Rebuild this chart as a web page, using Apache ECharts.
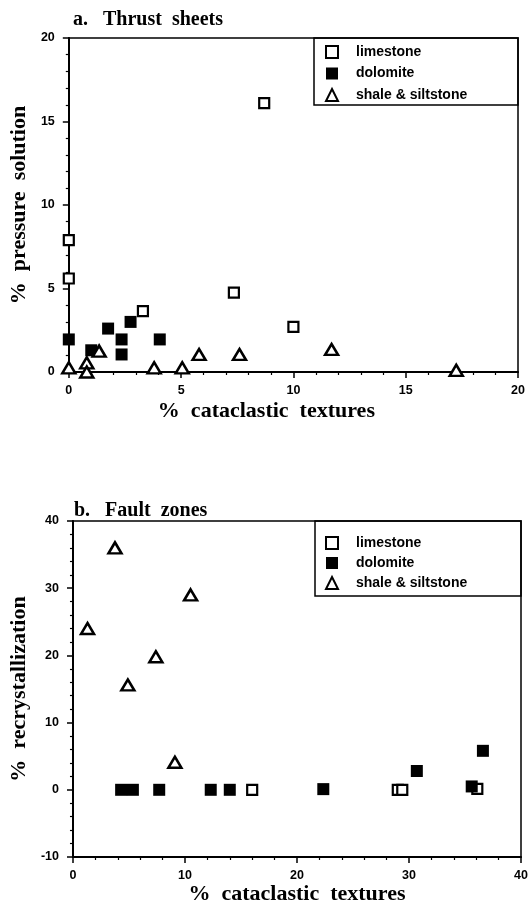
<!DOCTYPE html>
<html>
<head>
<meta charset="utf-8">
<script src="https://cdn.jsdelivr.net/npm/echarts@6/dist/echarts.min.js"></script>
<style>
html,body{margin:0;padding:0;background:#fff;}
#c{width:531px;height:906px;}
</style>
</head>
<body>
<div id="c"></div>
<script>
// ---- data (x = % cataclastic textures, y = % pressure solution / % recrystallization)
const seriesNames = ['limestone', 'dolomite', 'shale & siltstone'];
const thrustLimestone = [[0,7.9],[0,5.6],[8.7,16.1],[7.35,4.75],[3.3,3.65],[10.0,2.7]];
const thrustDolomite = [[0,1.95],[1.0,1.3],[1.75,2.6],[2.35,1.95],[2.35,1.05],[2.75,3.0],[4.05,1.95]];
const thrustShale = [[0,0.25],[0.8,0.55],[0.8,0],[1.35,1.25],[3.8,0.25],[5.05,0.25],[5.8,1.05],[7.6,1.05],[11.7,1.35],[17.25,0.1]];
const faultLimestone = [[16.0,0],[29.0,0],[29.4,0],[36.1,0.15]];
const faultDolomite = [[4.3,0],[5.35,0],[7.7,0],[12.3,0],[14.0,0],[22.35,0.1],[30.7,2.8],[35.6,0.5],[36.6,5.8]];
const faultShale = [[1.3,24],[3.75,36],[4.9,15.6],[7.4,19.8],[9.1,4.1],[10.5,29]];
const thrustXTicks = [0, 20, 5];   // min, max, interval
const thrustYTicks = [0, 20, 5];
const faultXTicks = [0, 40, 10];
const faultYTicks = [-10, 40, 10];

const serif = '"Liberation Serif","Times New Roman",serif';
const sans = '"Liberation Sans",Arial,sans-serif';

function axisCommon(t, opts) {
  return Object.assign({
    type: 'value', min: t[0], max: t[1], interval: t[2],
    axisLine: { show: true, onZero: false, lineStyle: { color: '#000', width: 2 } },
    axisTick: { show: true, inside: false, length: 6, lineStyle: { color: '#000', width: 1.5 } },
    minorTick: { show: true, splitNumber: 5, length: 3, lineStyle: { color: '#000', width: 1.2 } },
    splitLine: { show: false },
    minorSplitLine: { show: false },
    nameLocation: 'middle',
    nameTextStyle: { color: '#000', fontFamily: serif, fontWeight: 'bold', fontSize: 22 }
  }, opts);
}

function tickLabel(margin) {
  return { color: '#000', fontFamily: sans, fontWeight: 'bold', fontSize: 12.5, margin: margin };
}

const styles = {
  limestone: { symbol: 'rect', symbolSize: 10, itemStyle: { color: '#fff', borderColor: '#000', borderWidth: 2.2, opacity: 1 } },
  dolomite: { symbol: 'rect', symbolSize: 12, itemStyle: { color: '#000', borderColor: '#000', borderWidth: 0, opacity: 1 } },
  shale: { symbol: 'triangle', symbolSize: [13, 11], itemStyle: { color: '#fff', borderColor: '#000', borderWidth: 2.5, opacity: 1 } }
};

function sc(name, st, data, idx) {
  return Object.assign({
    type: 'scatter', name: name, xAxisIndex: idx, yAxisIndex: idx, data: data, clip: false, z: 5
  }, JSON.parse(JSON.stringify(st)));
}

function legendFor(left, top, padTop, itemGap, padLeft) {
  return {
    orient: 'vertical', left: left, top: top, data: seriesNames,
    itemWidth: 12, itemHeight: 12, itemGap: itemGap,
    padding: [padTop, 0, 0, padLeft],
    selectedMode: false,
    textStyle: { color: '#000', fontFamily: sans, fontWeight: 'bold', fontSize: 14, lineHeight: 14, padding: [0, 0, 0, 13] }
  };
}

const chart = echarts.init(document.getElementById('c'), null, { renderer: 'canvas' });
chart.setOption({
  backgroundColor: '#fff',
  animation: false,
  title: [
    { text: 'a.   Thrust  sheets', left: 73, top: 10, padding: 0,
      textStyle: { color: '#000', fontFamily: serif, fontWeight: 'bold', fontSize: 20 } },
    { text: 'b.   Fault  zones', left: 74, top: 501, padding: 0,
      textStyle: { color: '#000', fontFamily: serif, fontWeight: 'bold', fontSize: 20 } }
  ],
  grid: [
    { left: 67, top: 38, width: 451, height: 334, show: true, borderColor: '#000', borderWidth: 1.5, backgroundColor: 'transparent' },
    { left: 72, top: 521, width: 449, height: 336, show: true, borderColor: '#000', borderWidth: 1.5, backgroundColor: 'transparent' }
  ],
  xAxis: [
    axisCommon(thrustXTicks, { gridIndex: 0, name: '%  cataclastic  textures', nameGap: 28,
      axisLabel: tickLabel(12),
      nameTextStyle: { color: '#000', fontFamily: serif, fontWeight: 'bold', fontSize: 22, padding: [0, 54, 0, 0] } }),
    axisCommon(faultXTicks, { gridIndex: 1, name: '%  cataclastic  textures', nameGap: 25,
      axisLabel: tickLabel(12) })
  ],
  yAxis: [
    axisCommon(thrustYTicks, { gridIndex: 0, name: '%  pressure  solution', nameGap: 36,
      axisLabel: tickLabel(14) }),
    axisCommon(faultYTicks, { gridIndex: 1, name: '%  recrystallization', nameGap: 40,
      axisLabel: tickLabel(14) })
  ],
  legend: [
    legendFor(314, 38, 7, 7.5, 11),
    legendFor(315, 521, 15, 6, 10)
  ],
  graphic: [
    { type: 'rect', shape: { x: 314, y: 38, width: 204, height: 67 }, style: { fill: 'none', stroke: '#000', lineWidth: 1.5 }, z: 10 },
    { type: 'rect', shape: { x: 315, y: 521, width: 206, height: 75 }, style: { fill: 'none', stroke: '#000', lineWidth: 1.5 }, z: 10 }
  ],
  series: [
    sc('limestone', styles.limestone, thrustLimestone, 0),
    sc('dolomite', styles.dolomite, thrustDolomite, 0),
    sc('shale & siltstone', styles.shale, thrustShale, 0),
    sc('limestone', styles.limestone, faultLimestone, 1),
    sc('dolomite', styles.dolomite, faultDolomite, 1),
    sc('shale & siltstone', styles.shale, faultShale, 1)
  ]
});
</script>
</body>
</html>
